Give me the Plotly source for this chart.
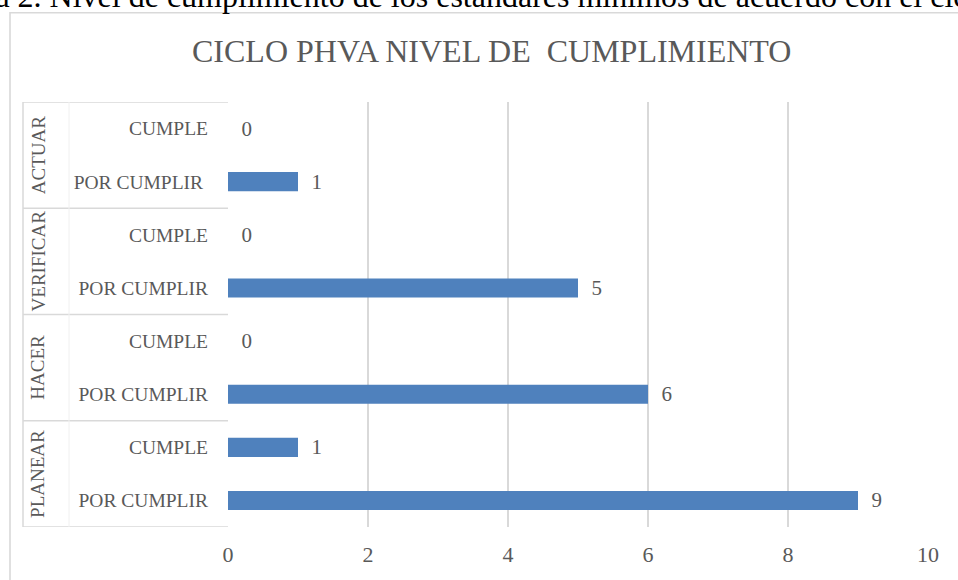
import plotly.graph_objects as go

groups = ["PLANEAR", "HACER", "VERIFICAR", "ACTUAR"]
subs = ["POR CUMPLIR", "CUMPLE"]
por_cumplir = [9, 6, 5, 1]
cumple = [1, 0, 0, 0]
x_ticks = [0, 2, 4, 6, 8, 10]
title_text = "CICLO PHVA NIVEL DE  CUMPLIMIENTO"
caption_text = "Tabla 2. Nivel de cumplimiento de los estándares mínimos de acuerdo con el ciclo PHVA"

# plot-area geometry (pixels) used to convert to paper coordinates
L, R, T, B = 228, 928, 102, 527
def X(px):
    return (px - L) / (R - L)
def Y(py):
    return (B - py) / (B - T)

ids, vals, labels = [], [], []
for g, pc, c in zip(groups, por_cumplir, cumple):
    for s, v in zip(subs, [pc, c]):
        ids.append(f"{g}|{s}")
        vals.append(v)
        lab = s
        if g == "ACTUAR" and s == "POR CUMPLIR":
            lab = s + "\u00a0"
        labels.append(lab)

gray = "#595959"
grid = "#D9D9D9"
font = "Liberation Serif"

fig = go.Figure(go.Bar(
    x=vals, y=ids, orientation="h",
    marker=dict(color="#4F81BD", line=dict(width=0)),
    text=vals, texttemplate="\u00a0\u00a0%{x}", textposition="outside",
    constraintext="none",
    textfont=dict(family=font, size=21, color=gray),
    cliponaxis=False, width=0.36, hoverinfo="skip",
))

shapes = []
# chart border
shapes.append(dict(type="rect", xref="paper", yref="paper",
                   x0=X(10), x1=X(975), y0=Y(12.7), y1=Y(595),
                   line=dict(color=grid, width=1.6), fillcolor="rgba(0,0,0,0)", layer="below"))
# category dividers
for i in range(len(groups) + 1):
    shapes.append(dict(type="line", xref="paper", yref="y",
                       x0=X(23), x1=0, y0=2 * i - 0.5, y1=2 * i - 0.5,
                       line=dict(color=grid, width=1.5)))
shapes.append(dict(type="line", xref="paper", yref="y",
                   x0=X(23), x1=X(23), y0=-0.5, y1=2 * len(groups) - 0.5,
                   line=dict(color=grid, width=1.5)))
shapes.append(dict(type="line", xref="paper", yref="y",
                   x0=X(69), x1=X(69), y0=-0.5, y1=2 * len(groups) - 0.5,
                   line=dict(color="#F0F0F0", width=1)))

annotations = []
for i, g in enumerate(groups):
    annotations.append(dict(x=X(38), y=2 * i + 0.5, xref="paper", yref="y",
                            text=g, textangle=-90, showarrow=False,
                            font=dict(family=font, size=19, color=gray),
                            xanchor="center", yanchor="middle"))
annotations.append(dict(x=X(491), y=Y(51), xref="paper", yref="paper",
                        text=title_text, showarrow=False,
                        font=dict(family=font, size=32, color=gray),
                        xanchor="center", yanchor="middle"))
annotations.append(dict(x=X(-63), y=Y(-4), xref="paper", yref="paper",
                        text=caption_text, showarrow=False,
                        font=dict(family=font, size=32, color="#000000"),
                        xanchor="left", yanchor="middle"))

fig.update_layout(
    width=958, height=580,
    margin=dict(l=L, r=958 - R, t=T, b=580 - B),
    paper_bgcolor="white", plot_bgcolor="white",
    showlegend=False, hovermode=False,
    shapes=shapes, annotations=annotations,
    xaxis=dict(range=[0, 10], tickvals=x_ticks, showgrid=True, gridcolor=grid, gridwidth=1.5,
               zeroline=False, showline=False, ticks="", fixedrange=True,
               tickfont=dict(family=font, size=22, color=gray), ticklabelstandoff=12),
    yaxis=dict(type="category", categoryorder="array", categoryarray=ids,
               tickvals=ids, ticktext=labels, range=[-0.5, len(ids) - 0.5],
               showgrid=False, zeroline=False, showline=False, ticks="", fixedrange=True,
               tickfont=dict(family=font, size=19.5, color=gray), ticklabelstandoff=19),
)

fig.write_html("out.html", config={"displayModeBar": False, "staticPlot": True},
               post_script="document.body.style.margin='0';document.body.style.overflow='hidden';")
